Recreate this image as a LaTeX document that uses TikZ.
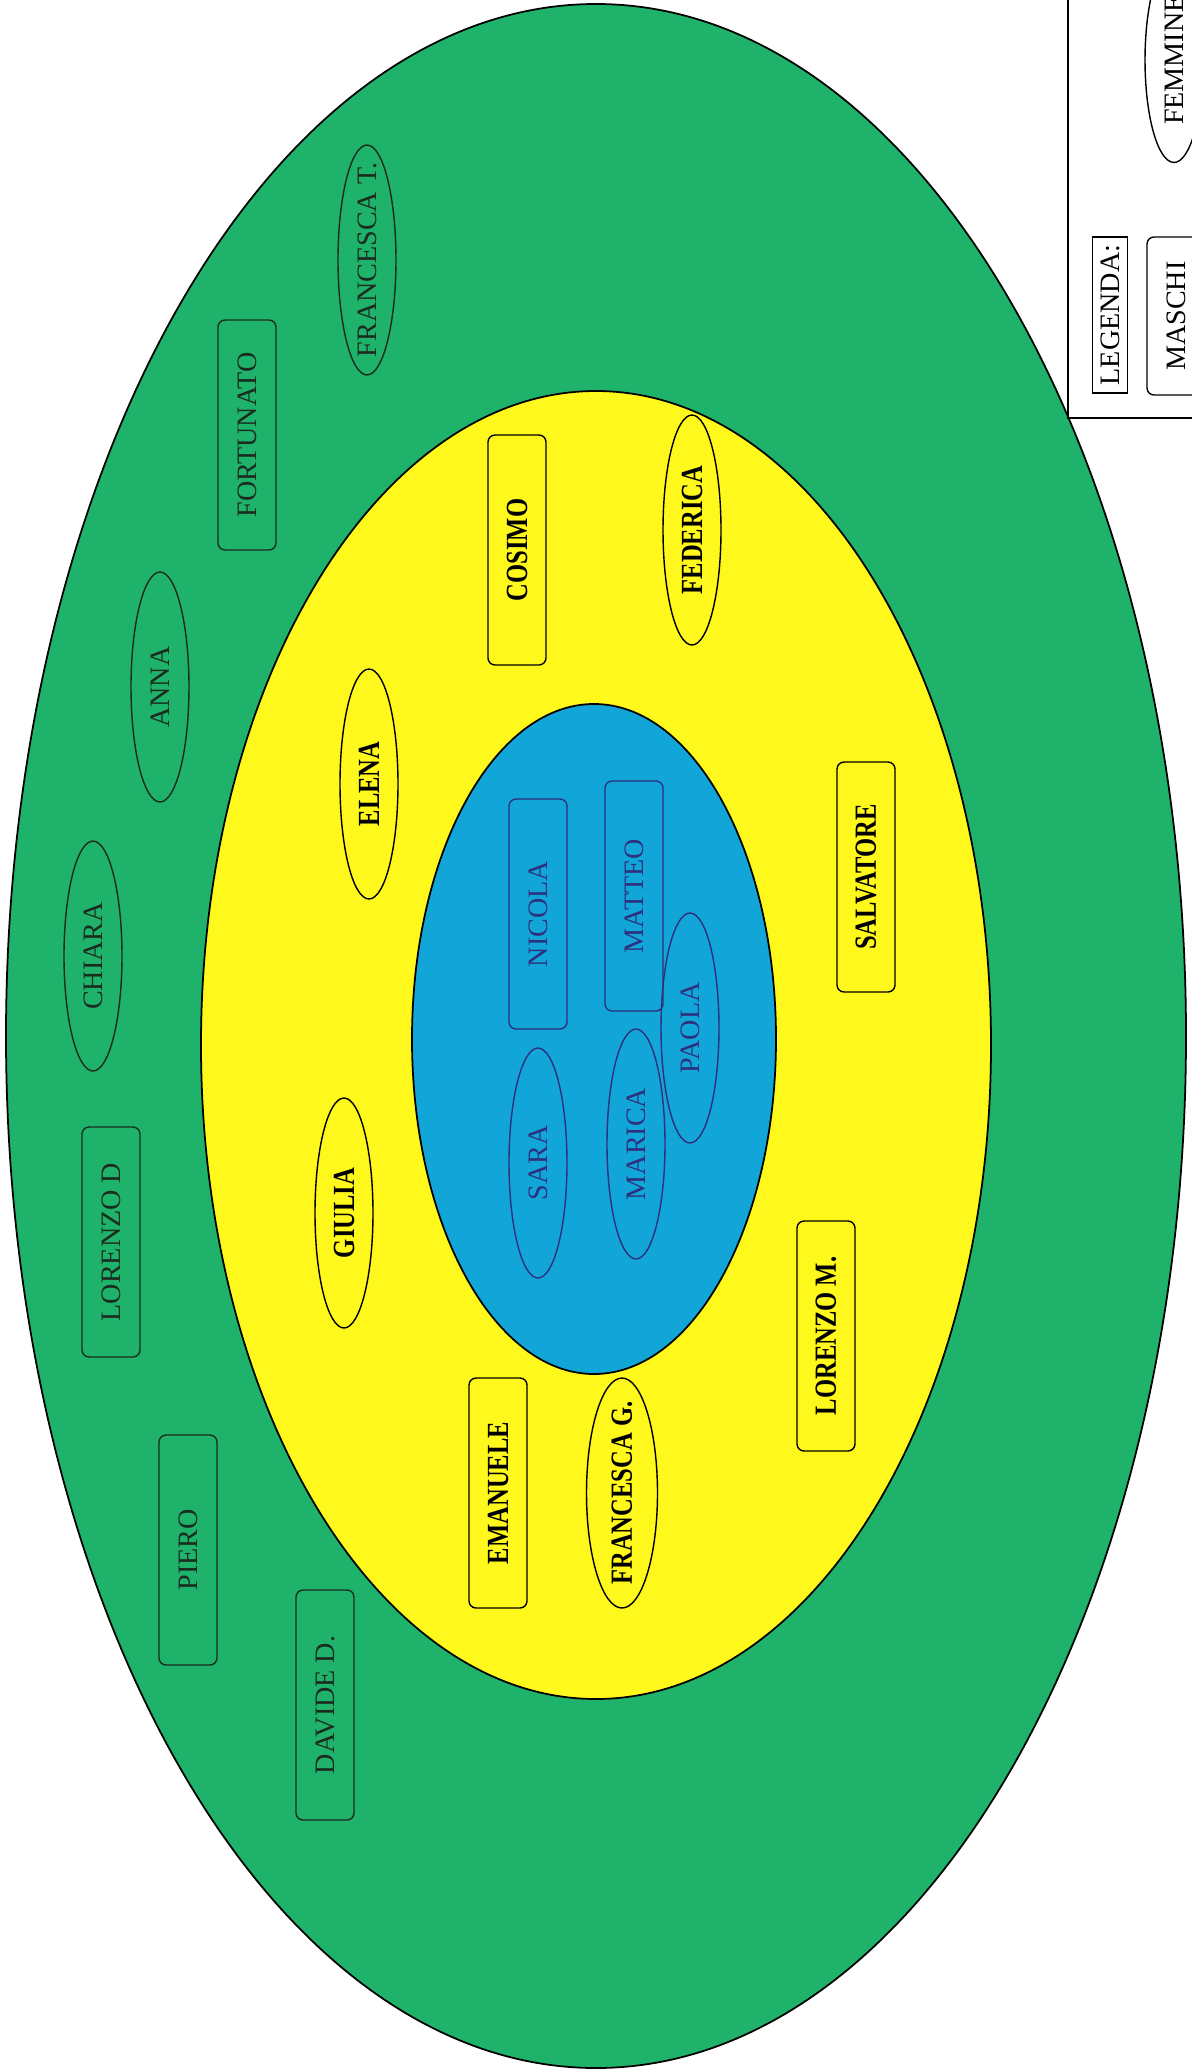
\documentclass[tikz,border=0pt]{standalone}
\usepackage{fontspec}
\setmainfont{Liberation Serif}
\newfontfamily\narrowserif[FakeStretch=0.8]{Liberation Serif}
\usetikzlibrary{shapes.geometric}
\definecolor{ringgreen}{HTML}{1FB26A}
\definecolor{ringyellow}{HTML}{FFF81C}
\definecolor{ringblue}{HTML}{12A6D8}
\definecolor{inkblue}{HTML}{2E2F7E}
\definecolor{inkgreen}{HTML}{1B2B20}

\begin{document}
\begin{tikzpicture}[x=0.02cm,y=-0.02cm,
  boy/.style={draw,rounded corners=4pt,rotate=90,inner sep=0pt,minimum width=4.6cm,minimum height=1.16cm,line width=0.8pt},
  girl/.style={draw,ellipse,rotate=90,inner xsep=-14pt,inner ysep=0pt,minimum width=4.6cm,minimum height=1.16cm,line width=0.8pt},
  outring/.style={text=inkgreen,draw=inkgreen,font=\fontsize{16}{18}\selectfont},
  midring/.style={text=black,font=\narrowserif\bfseries\fontsize{17.5}{20}\selectfont},
  inring/.style={text=inkblue,draw=inkblue,font=\fontsize{16}{18}\selectfont}]
\useasboundingbox (0,0) rectangle (1192,2072);
\clip (0,0) rectangle (1192,2072);
% the three rings
\filldraw[fill=ringgreen,line width=1pt] (596,1036) ellipse [x radius=590,y radius=1032];
\filldraw[fill=ringyellow,line width=1pt] (596,1045) ellipse [x radius=395,y radius=654];
\filldraw[fill=ringblue,line width=1pt] (594,1039) ellipse [x radius=182,y radius=335];
% outer ring
\node[girl,outring] (francescat) at (367,260) {FRANCESCA T.};
\node[boy,outring] (fortunato) at (247,435) {FORTUNATO};
\node[girl,outring] (anna) at (160,687) {ANNA};
\node[girl,outring] (chiara) at (93,956) {CHIARA};
\node[boy,outring] (lorenzod) at (111,1242) {LORENZO D};
\node[boy,outring] (piero) at (188,1550) {PIERO};
\node[boy,outring] (davided) at (325,1705) {DAVIDE D.};
% middle ring
\node[boy,midring] (cosimo) at (517,550) {COSIMO};
\node[girl,midring] (federica) at (692,530) {FEDERICA};
\node[girl,midring] (elena) at (369,784) {ELENA};
\node[boy,midring] (salvatore) at (866,877) {SALVATORE};
\node[girl,midring] (giulia) at (344,1213) {GIULIA};
\node[boy,midring] (lorenzom) at (826,1336) {LORENZO M.};
\node[boy,midring] (emanuele) at (498,1493) {EMANUELE};
\node[girl,midring,minimum height=1.42cm] (francescag) at (622,1493) {FRANCESCA G.};
% inner ring
\node[boy,inring] (nicola) at (538,914) {NICOLA};
\node[boy,inring] (matteo) at (634,896) {MATTEO};
\node[girl,inring] (sara) at (538,1163) {SARA};
\node[girl,inring] (marica) at (636,1144) {MARICA};
\node[girl,inring] (paola) at (690,1028) {PAOLA};
% legend
\draw[line width=0.8pt] (1068,-10) rectangle (1210,418);
\node[draw,rotate=90,inner sep=0pt,minimum width=3.12cm,minimum height=0.7cm,line width=0.8pt,font=\fontsize{16}{18}\selectfont] (legenda) at (1110,315) {LEGENDA:};
\node[boy,minimum width=3.16cm,font=\fontsize{16}{18}\selectfont] (maschi) at (1176,316) {MASCHI};
\node[girl,minimum width=4.1cm,font=\fontsize{16}{18}\selectfont] (femmine) at (1174,60) {FEMMINE};
\end{tikzpicture}
\end{document}
